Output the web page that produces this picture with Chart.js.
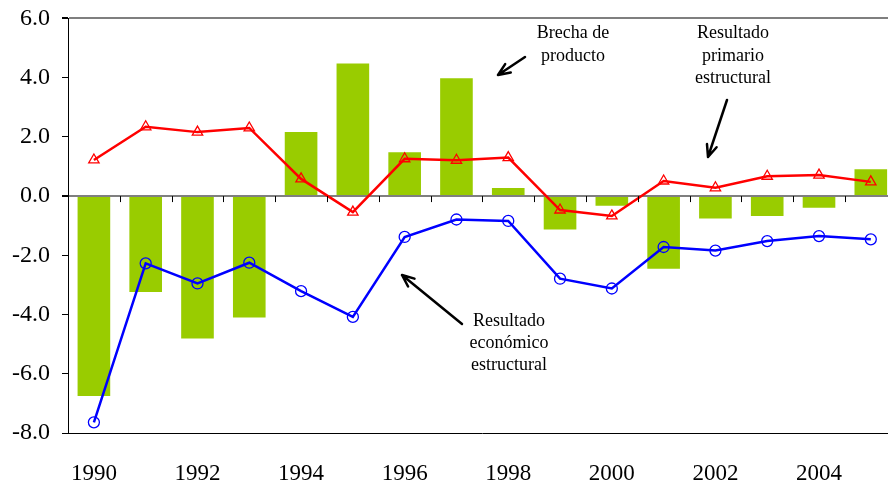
<!DOCTYPE html>
<html>
<head>
<meta charset="utf-8">
<script src="https://cdn.jsdelivr.net/npm/chart.js@4.4.0/dist/chart.umd.min.js"></script>
<style>
  html, body { margin: 0; padding: 0; background: #fff; overflow: hidden; }
  #wrap { width: 904px; height: 493px; margin-top: -8px; }
</style>
</head>
<body>
<div id="wrap"><canvas id="myChart"></canvas></div>
<script>
var years = ["1990", "1991", "1992", "1993", "1994", "1995", "1996", "1997",
             "1998", "1999", "2000", "2001", "2002", "2003", "2004", "2005"];

// Brecha de producto (bars)
var brecha = [-6.75, -3.24, -4.81, -4.10, 2.16, 4.48, 1.48, 3.98,
              0.27, -1.13, -0.33, -2.45, -0.76, -0.67, -0.39, 0.91];

// Resultado primario estructural (red)
var primario = [1.22, 2.34, 2.16, 2.30, 0.58, -0.54, 1.26, 1.21,
                1.30, -0.47, -0.67, 0.51, 0.28, 0.67, 0.71, 0.48];

// Resultado economico estructural (blue)
var economico = [-7.64, -2.27, -2.95, -2.25, -3.21, -4.08, -1.38, -0.79,
                 -0.84, -2.79, -3.12, -1.72, -1.84, -1.52, -1.35, -1.46];

var yTicks = [-8, -6, -4, -2, 0, 2, 4, 6];

var serif = "'Liberation Serif', 'Times New Roman', serif";
var dy = 8; // canvas is shifted up by 8px

// small tick marks hanging from the zero line + text annotations
var extras = {
    id: "extras",
    afterDatasetsDraw: function(chart) {
        var c = chart.ctx;
        var xs = chart.scales.x;
        var ys = chart.scales.y;
        var y0 = ys.getPixelForValue(0);
        c.save();
        c.strokeStyle = "#000";
        c.lineWidth = 1;
        for (var i = 1; i < years.length; i++) {
            var x = Math.round((xs.getPixelForValue(i - 1) + xs.getPixelForValue(i)) / 2) + 0.5;
            c.beginPath();
            c.moveTo(x, y0);
            c.lineTo(x, y0 + 6);
            c.stroke();
        }
        c.restore();
    },
    afterDraw: function(chart) {
        var c = chart.ctx;
        c.save();
        c.translate(0, dy);
        c.fillStyle = "#000";
        c.font = "18px " + serif;
        c.textAlign = "center";
        c.textBaseline = "middle";
        c.fillText("Brecha de", 573, 33);
        c.fillText("producto", 573, 56);
        c.fillText("Resultado", 733, 33);
        c.fillText("primario", 733, 56);
        c.fillText("estructural", 733, 78);
        c.fillText("Resultado", 509, 321);
        c.fillText("económico", 509, 343);
        c.fillText("estructural", 509, 365);
        arrow(c, 525, 57, 498, 75);
        arrow(c, 727, 100, 708, 157);
        arrow(c, 462, 324, 402, 275);
        c.restore();
    }
};

function arrow(c, x1, y1, x2, y2) {
    var a = Math.atan2(y2 - y1, x2 - x1);
    var h = 13;
    c.strokeStyle = "#000";
    c.lineWidth = 2.5;
    c.lineCap = "round";
    c.beginPath();
    c.moveTo(x1, y1);
    c.lineTo(x2, y2);
    c.moveTo(x2, y2);
    c.lineTo(x2 - h * Math.cos(a - 0.4), y2 - h * Math.sin(a - 0.4));
    c.moveTo(x2, y2);
    c.lineTo(x2 - h * Math.cos(a + 0.4), y2 - h * Math.sin(a + 0.4));
    c.stroke();
}

var ctx = document.getElementById("myChart");

const myChart = new Chart(ctx, {
    type: "bar",
    data: {
        labels: years,
        datasets: [
            {
                type: "line",
                label: "Resultado económico estructural",
                data: economico,
                borderColor: "#0000FF",
                borderWidth: 2.5,
                pointStyle: "circle",
                pointRadius: 5.5,
                pointBorderWidth: 1.3,
                pointBorderColor: "#0000FF",
                pointBackgroundColor: "rgba(0,0,0,0)",
                tension: 0,
                order: 1
            },
            {
                type: "line",
                label: "Resultado primario estructural",
                data: primario,
                borderColor: "#FF0000",
                borderWidth: 2.5,
                pointStyle: "triangle",
                pointRadius: 6,
                pointBorderWidth: 1.3,
                pointBorderColor: "#FF0000",
                pointBackgroundColor: "rgba(255,255,255,0)",
                tension: 0,
                order: 2
            },
            {
                type: "bar",
                label: "Brecha de producto",
                data: brecha,
                backgroundColor: "#99CC00",
                borderWidth: 0,
                barPercentage: 0.63,
                categoryPercentage: 1,
                order: 3
            }
        ]
    },
    options: {
        responsive: true,
        maintainAspectRatio: false,
        animation: false,
        layout: {
            padding: { top: 9, right: 4, bottom: 0, left: 0 }
        },
        plugins: {
            legend: { display: false },
            tooltip: { enabled: false },
            title: { display: false }
        },
        scales: {
            x: {
                type: "category",
                offset: true,
                afterFit: function(scale) { scale.height = 52; },
                grid: { display: false, drawTicks: false },
                border: { display: true, color: "#000", width: 1 },
                ticks: {
                    autoSkip: false,
                    maxRotation: 0,
                    padding: 27,
                    color: "#000",
                    font: { family: serif, size: 23 },
                    callback: function(v, i) {
                        return i % 2 === 0 ? years[i] : "";
                    }
                }
            },
            y: {
                min: -8,
                max: 6,
                afterFit: function(scale) { scale.width = 68; },
                afterBuildTicks: function(scale) {
                    scale.ticks = yTicks.map(function(v) { return { value: v }; });
                },
                grid: {
                    drawTicks: true,
                    tickLength: 6,
                    tickColor: "#000",
                    color: function(c) {
                        if (c.tick && (c.tick.value === 0 || c.tick.value === 6)) return "#7f7f7f";
                        return "rgba(0,0,0,0)";
                    },
                    lineWidth: function(c) {
                        if (c.tick && (c.tick.value === 0 || c.tick.value === 6)) return 2;
                        return 1;
                    }
                },
                border: { display: true, color: "#000", width: 1 },
                ticks: {
                    padding: 12,
                    color: "#000",
                    font: { family: serif, size: 24 },
                    callback: function(v) { return Number(v).toFixed(1); }
                }
            }
        }
    },
    plugins: [extras]
});
</script>
</body>
</html>
